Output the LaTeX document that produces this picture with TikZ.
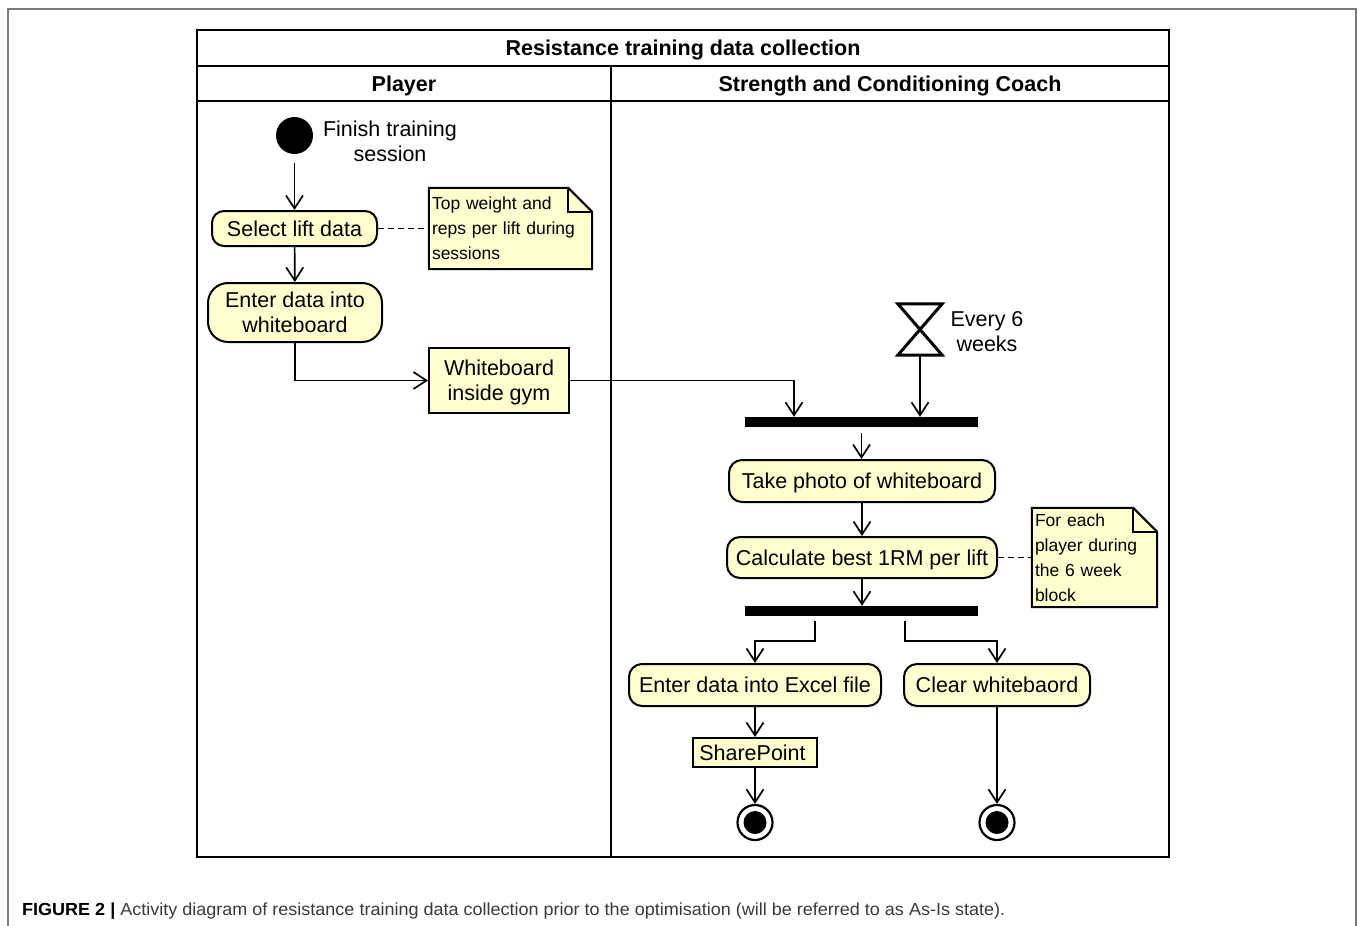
\documentclass[tikz,border=0pt]{standalone}
\usepackage{graphicx}
\usepackage{fontspec}
\setmainfont{Liberation Sans}
\usetikzlibrary{arrows.meta,calc,backgrounds}

\definecolor{actfill}{HTML}{FEFECE}
\definecolor{framegray}{HTML}{7A7A7A}
\definecolor{captext}{HTML}{3A3A3A}

\begin{document}
\begin{tikzpicture}[x=1pt,y=-1pt,
  font=\fontsize{21.5}{25}\selectfont,
  >={Straight Barb[length=13pt,width=17pt]},
  flow/.style={line width=1.7pt,->},
  link/.style={line width=1.7pt,dash pattern=on 6pt off 4pt},
  act/.style={draw,line width=2pt,fill=actfill,rounded corners=13pt,inner sep=0pt,align=center},
  onelinetext/.style={text height=15.4pt,text depth=0pt},
  obj/.style={draw,line width=2pt,fill=actfill,inner sep=0pt,align=center},
  notebody/.style={inner sep=3pt,align=left,font=\fontsize{17.5}{25}\selectfont},
  noteshape/.style={draw,line width=2pt,fill=actfill},
  bar/.style={fill=black,minimum width=233pt,minimum height=10pt,inner sep=0pt},
  lane/.style={font=\bfseries\fontsize{21.5}{25}\selectfont,text height=15.4pt,text depth=0pt},
  endnode/.style={circle,draw,line width=2.2pt,minimum size=35pt,inner sep=0pt,fill=white},
]
\useasboundingbox (0,0) rectangle (1358,926);

% page frame
\draw[framegray,line width=1.5pt] (8,926) -- (8,9) -- (1356,9) -- (1356,926);

% swimlane pool
\draw[line width=2.3pt] (197,30) rectangle (1169,857);
\draw[line width=2.3pt] (197,66) -- (1169,66) (197,101) -- (1169,101) (611,66) -- (611,857);
\node[lane] (title) at (683,48) {Resistance training data collection};
\node[lane] (laneP) at (404,84) {Player};
\node[lane] (laneC) at (890,84) {Strength and Conditioning Coach};

% player lane
\node[circle,fill=black,minimum size=37pt,inner sep=0pt] (start) at (294.5,135.5) {};
\node[align=center] (startlbl) at (390,141.5) {Finish training\\session};
\node[act,onelinetext,minimum width=165pt,minimum height=35pt,rounded corners=12pt] (select) at (294.5,228.5) {Select lift data};
\node[act,minimum width=174pt,minimum height=59pt,rounded corners=20pt] (enter) at (295,312.5) {Enter data into\\whiteboard};
\node[obj,text depth=0pt,minimum width=140pt,minimum height=65pt] (wb) at (499,380.5) {Whiteboard\\inside gym};
\node[notebody,text width=157pt,minimum height=81pt] (n1) at (510.5,228.5) {Top weight and\\reps per lift during\\sessions};

% coach lane
\node[minimum width=44pt,minimum height=51pt,inner sep=0pt] (hg) at (920,329.5) {};
\draw[line width=3pt,line join=miter] (hg.north west) -- (hg.north east) -- (hg.south west) -- (hg.south east) -- cycle;
\node[align=center] (hglbl) at (987,331.5) {Every 6\\weeks};
\node[bar] (fork1) at (861.5,422) {};
\node[act,onelinetext,minimum width=266pt,minimum height=42pt] (photo) at (862,481) {Take photo of whiteboard};
\node[act,onelinetext,minimum width=270pt,minimum height=41pt] (best) at (862,557.5) {Calculate best 1RM per lift};
\node[notebody,text width=119pt,minimum height=99pt] (n2) at (1094.5,557.5) {For each\\player during\\the 6 week\\block};
\node[bar] (fork2) at (861.5,611) {};
\node[act,onelinetext,minimum width=252pt,minimum height=42pt] (excel) at (755,685) {Enter data into Excel file};
\node[act,onelinetext,minimum width=186pt,minimum height=42pt] (clear) at (997,685) {Clear whitebaord};
\node[obj,onelinetext,minimum width=124pt,minimum height=29pt] (sp) at (755,752.5) {SharePoint\hspace*{5pt}};
\node[endnode] (end1) at (755,822.5) {};
\node[endnode] (end2) at (997,822.5) {};
\fill (end1.center) circle (11.5);
\fill (end2.center) circle (11.5);

% note outlines with folded corner
\begin{scope}[on background layer]
  \foreach \n in {n1,n2} {
    \draw[noteshape] (\n.north west) -- ($(\n.north east)+(-24,0)$) -- ($(\n.north east)+(0,24)$)
      -- (\n.south east) -- (\n.south west) -- cycle;
    \draw[line width=2pt] ($(\n.north east)+(-24,0)$) -- ($(\n.north east)+(-24,24)$) -- ($(\n.north east)+(0,24)$);
  }
\end{scope}

% control flow
\draw[flow,shorten <=9pt] (start) -- (select);
\draw[flow] (select) -- (enter);
\draw[flow] (enter.south) |- (wb.west);
\draw[flow] (wb.east) -| ([xshift=-67.5pt]fork1.north);
\draw[flow] (hg.south) -- (hg.south |- fork1.north);
\draw[flow,shorten <=6pt] (fork1.south) -- (fork1.south |- photo.north);
\draw[flow] (photo) -- (best);
\draw[flow] (best.south) -- (best.south |- fork2.north);
\draw[flow,shorten <=5pt] ([xshift=-46.5pt]fork2.south) -- ++(0,25) -| (excel.north);
\draw[flow,shorten <=5pt] ([xshift=43.5pt]fork2.south) -- ++(0,25) -| (clear.north);
\draw[flow] (excel) -- (sp);
\draw[flow] (sp) -- (end1);
\draw[flow] (clear) -- (end2);

% note links
\draw[link] (select.east) -- (select.east -| n1.west);
\draw[link] (best.east) -- (best.east -| n2.west);

% caption
\node[anchor=base west,text=captext,font=\fontsize{17.5}{20}\selectfont,inner sep=0pt] (caption) at (22,915.5)
  {\resizebox{983pt}{\height}{\textcolor{black}{\textbf{FIGURE 2 |}} Activity diagram of resistance training data collection prior to the optimisation (will be referred to as As-Is state).}};
\end{tikzpicture}
\end{document}
